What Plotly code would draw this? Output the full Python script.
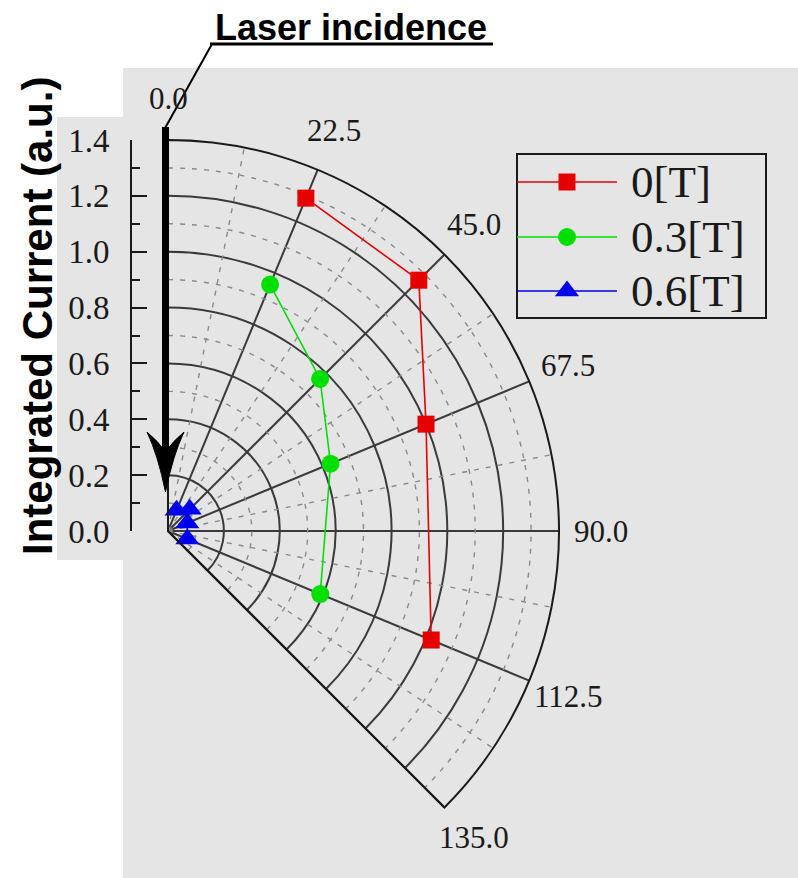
import numpy as np
import plotly.graph_objects as go

W, H = 798, 878

# ---- data -------------------------------------------------------------
angles = [22.5, 45.0, 67.5, 112.5]                 # detection angle (deg)
current_0T = [1.29, 1.27, 1.00, 1.02]               # integrated current, B = 0 T
current_03T = [0.955, 0.77, 0.63, 0.59]             # B = 0.3 T
current_06T = [0.08, 0.11, 0.075, 0.075]            # B = 0.6 T

series_names = ["0[T]", "0.3[T]", "0.6[T]"]
series_colors = ["#e60000", "#00e000", "#0000ee"]
series_symbols = ["square", "circle", "triangle-up"]
series_sizes = [17, 18, 21]

angle_ticks = [0.0, 22.5, 45.0, 67.5, 90.0, 112.5, 135.0]
angle_labels = ["0.0", "22.5", "45.0", "67.5", "90.0", "112.5", "135.0"]
radial_ticks = [0.0, 0.2, 0.4, 0.6, 0.8, 1.0, 1.2, 1.4]
radial_labels = ["0.0", "0.2", "0.4", "0.6", "0.8", "1.0", "1.2", "1.4"]
radial_minor = [0.1, 0.3, 0.5, 0.7, 0.9, 1.1, 1.3]
angle_minor = [11.25, 33.75, 56.25, 78.75, 101.25, 123.75]
r_max = 1.4

# ---- page geometry (pixels -> paper fractions) -------------------------
def fx(x):
    return x / W


def fy(y):
    return 1 - y / H


cx, cy, R = 168, 531, 391          # pole position and outer radius in px
label_radius = 433                 # angle labels are centred on this radius (px)
SERIF = "Liberation Serif"
SANS = "Liberation Sans"
INK = "#1a1a1a"
GRID = "#3a3a3a"
BG = "#e5e5e5"

fig = go.Figure()

# minor (dashed) rings and spokes
theta_arc = np.linspace(0, 135, 181)
for r in radial_minor:
    fig.add_trace(go.Scatterpolar(
        r=[r] * len(theta_arc), theta=theta_arc, mode="lines",
        line=dict(color="#8a8a8a", width=1.4, dash="5px,7px"),
        hoverinfo="skip", showlegend=False))
for a in angle_minor:
    fig.add_trace(go.Scatterpolar(
        r=[0, r_max], theta=[a, a], mode="lines",
        line=dict(color="#8a8a8a", width=1.4, dash="5px,7px"),
        hoverinfo="skip", showlegend=False))

# measured series
for vals, name, col, sym, size in zip(
        [current_0T, current_03T, current_06T],
        series_names, series_colors, series_symbols, series_sizes):
    fig.add_trace(go.Scatterpolar(
        r=vals, theta=angles, mode="lines+markers", name=name,
        line=dict(color=col, width=1.6),
        marker=dict(symbol=sym, size=size, color=col, line=dict(width=0)),
        showlegend=False))

# invisible trace so the separate radial scale on the left is rendered
fig.add_trace(go.Scatter(x=[0], y=[0], mode="markers",
                         marker=dict(opacity=0), hoverinfo="skip",
                         showlegend=False, xaxis="x", yaxis="y"))

shapes = []
annotations = []
# grey panels
shapes.append(dict(type="rect", xref="paper", yref="paper", layer="below",
                   x0=fx(123), x1=fx(798), y0=fy(878), y1=fy(68),
                   fillcolor=BG, line=dict(width=0)))
shapes.append(dict(type="rect", xref="paper", yref="paper", layer="below",
                   x0=fx(57), x1=fx(124), y0=fy(560), y1=fy(117),
                   fillcolor=BG, line=dict(width=0)))

# angle labels, centred just outside the outer arc (clockwise from top)
for ang, lab in zip(angle_ticks, angle_labels):
    t = np.deg2rad(ang)
    annotations.append(dict(
        xref="paper", yref="paper",
        x=fx(cx + label_radius * np.sin(t)), y=fy(cy - label_radius * np.cos(t)),
        xanchor="center", yanchor="middle", showarrow=False, text=lab,
        font=dict(family=SERIF, size=31, color=INK)))

# "Laser incidence" arrow: shaft + barbed head
shapes.append(dict(type="line", xref="paper", yref="paper",
                   x0=fx(165.5), x1=fx(165.5), y0=fy(127), y1=fy(455),
                   line=dict(color="black", width=7)))
head = (f"M {fx(165.5)},{fy(492)} "
        f"Q {fx(158)},{fy(455)} {fx(147)},{fy(432)} "
        f"Q {fx(158)},{fy(441)} {fx(165.5)},{fy(452)} "
        f"Q {fx(173)},{fy(441)} {fx(184)},{fy(432)} "
        f"Q {fx(173)},{fy(455)} {fx(165.5)},{fy(492)} Z")
shapes.append(dict(type="path", xref="paper", yref="paper", path=head,
                   fillcolor="black", line=dict(color="black", width=1)))
# leader line and underline of the caption
shapes.append(dict(type="line", xref="paper", yref="paper",
                   x0=fx(212), y0=fy(44), x1=fx(164), y1=fy(130),
                   line=dict(color="black", width=2)))
shapes.append(dict(type="line", xref="paper", yref="paper",
                   x0=fx(210), y0=fy(44), x1=fx(493), y1=fy(44),
                   line=dict(color="black", width=3)))

# legend box with long line keys
lg_x0, lg_x1, lg_y0, lg_y1 = 517, 766, 154, 318
shapes.append(dict(type="rect", xref="paper", yref="paper",
                   x0=fx(lg_x0), x1=fx(lg_x1), y0=fy(lg_y1), y1=fy(lg_y0),
                   line=dict(color=INK, width=2)))
legend_rows = [182, 237, 291]
for yy, name, col, sym, size in zip(legend_rows, series_names, series_colors,
                                     series_symbols, series_sizes):
    shapes.append(dict(type="line", xref="paper", yref="paper",
                       x0=fx(lg_x0), x1=fx(617), y0=fy(yy), y1=fy(yy),
                       line=dict(color=col, width=1.6)))
    mx = 567
    if sym == "square":
        h = size / 2
        shapes.append(dict(type="rect", xref="paper", yref="paper",
                           x0=fx(mx - h), x1=fx(mx + h), y0=fy(yy + h), y1=fy(yy - h),
                           fillcolor=col, line=dict(width=0)))
    elif sym == "circle":
        h = size / 2
        shapes.append(dict(type="circle", xref="paper", yref="paper",
                           x0=fx(mx - h), x1=fx(mx + h), y0=fy(yy + h), y1=fy(yy - h),
                           fillcolor=col, line=dict(width=0)))
    else:
        r = size / 2
        rt = r * 2 / np.sqrt(3)
        path = (f"M {fx(mx - rt)},{fy(yy + r / 2)} L {fx(mx + rt)},{fy(yy + r / 2)} "
                f"L {fx(mx)},{fy(yy - r)} Z")
        shapes.append(dict(type="path", xref="paper", yref="paper", path=path,
                           fillcolor=col, line=dict(width=0)))
    annotations.append(dict(xref="paper", yref="paper", x=fx(629), y=fy(yy),
                            xanchor="left", yanchor="middle", showarrow=False,
                            text=name, font=dict(family=SERIF, size=45, color=INK)))

annotations.append(dict(xref="paper", yref="paper", x=fx(351), y=fy(27),
                        xanchor="center", yanchor="middle", showarrow=False,
                        text="<b>Laser incidence</b>",
                        font=dict(family=SANS, size=36, color="black")))
annotations.append(dict(xref="paper", yref="paper", x=fx(37), y=fy(316),
                        xanchor="center", yanchor="middle", showarrow=False,
                        textangle=-90, text="<b>Integrated Current (a.u.)</b>",
                        font=dict(family=SANS, size=42, color="black")))

fig.update_layout(
    width=W, height=H,
    margin=dict(l=0, r=0, t=0, b=0, pad=0, autoexpand=False),
    paper_bgcolor="white", plot_bgcolor="rgba(0,0,0,0)",
    showlegend=False,
    polar=dict(
        domain=dict(x=[fx(cx), fx(cx + R)],
                    y=[fy(cy + R * np.sin(np.pi / 4)), fy(cy - R)]),
        sector=[-45, 90],
        bgcolor="rgba(0,0,0,0)",
        angularaxis=dict(rotation=90, direction="clockwise",
                         tickmode="array", tickvals=angle_ticks, ticktext=angle_labels,
                         showticklabels=False,
                         showgrid=True, gridcolor=GRID, gridwidth=1.5,
                         showline=True, linecolor=INK, linewidth=2, ticks=""),
        radialaxis=dict(range=[0, r_max], tickmode="array", tickvals=radial_ticks[1:],
                        showticklabels=False, ticks="", showline=False,
                        showgrid=True, gridcolor=GRID, gridwidth=1.5),
    ),
    xaxis=dict(domain=[0, 0.01], range=[1, 2], visible=False, fixedrange=True,
               automargin=False),
    yaxis=dict(domain=[fy(cy), fy(cy - R)], range=[0, r_max],
               anchor="free", position=fx(131), side="left", automargin=False,
               showline=True, linecolor=INK, linewidth=2,
               ticks="inside", ticklen=15, tickwidth=2, tickcolor=INK,
               tickmode="array", tickvals=radial_ticks, ticktext=radial_labels,
               minor=dict(tick0=0, dtick=0.1, ticks="inside", ticklen=8,
                          tickwidth=2, tickcolor=INK, showgrid=False),
               showgrid=False, zeroline=False, ticklabelstandoff=14,
               tickfont=dict(family=SERIF, size=33, color=INK), fixedrange=True),
    shapes=shapes,
    annotations=annotations,
)

fig.write_html("out.html")
